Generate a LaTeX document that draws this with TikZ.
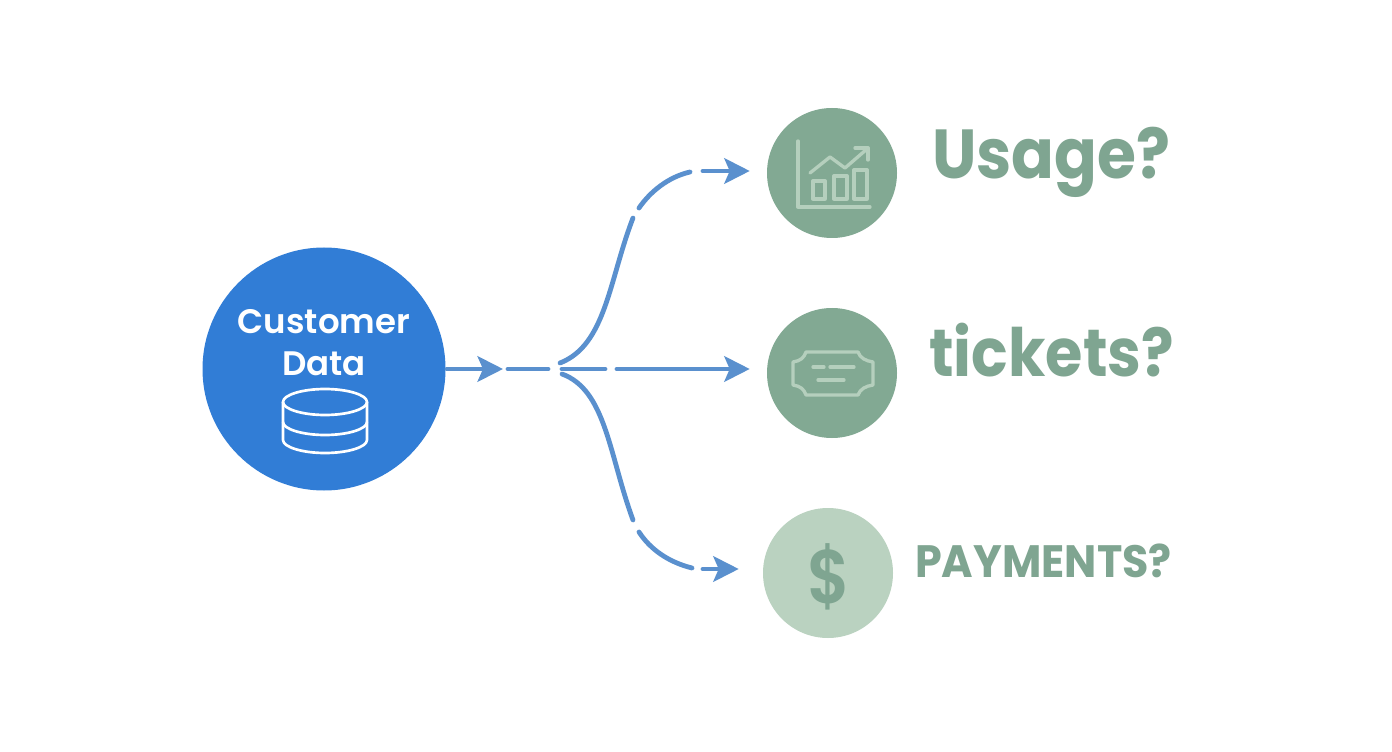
\documentclass[tikz,border=0pt]{standalone}
\usepackage{fontspec}
\setmainfont{Poppins}
\newfontfamily\semi{Poppins SemiBold}
\usetikzlibrary{arrows.meta}
\definecolor{bluefill}{HTML}{317DD6}
\definecolor{linkblue}{HTML}{5A90CE}
\definecolor{sage}{HTML}{82A993}
\definecolor{sagetext}{HTML}{7FA591}
\definecolor{paletint}{HTML}{BAD2C0}
\definecolor{icontint}{HTML}{B5CFBD}
\tikzset{
  roundnode/.style={circle,inner sep=0pt,minimum size=#1*0.75pt},
  link/.style={draw=linkblue,line width=3.6pt,line cap=round},
  tipped/.style={link,-{Stealth[length=19pt,width=19pt,inset=4pt]}},
  lbl/.style={text=sagetext,inner sep=0pt,anchor=base west},
  ico/.style={draw=icontint,line width=2.5pt,line cap=round,line join=round},
  baseicon/.style={draw=white,line width=2pt,line join=round}
}
\begin{document}
\begin{tikzpicture}[x=0.75pt,y=-0.75pt]
\useasboundingbox (0,0) rectangle (1392,752);
\fill[white] (0,0) rectangle (1392,752);
% nodes
\node[roundnode=243,fill=bluefill] (cust) at (324,369) {};
\node[roundnode=130,fill=sage] (usage) at (832,173) {};
\node[roundnode=130,fill=sage] (tickets) at (832,373) {};
\node[roundnode=130,fill=paletint] (pay) at (828,573) {};
\node[text=white,font=\semi\fontsize{25.5pt}{28pt}\selectfont,inner sep=0pt] (t1) at (324,322) {Customer};
\node[text=white,font=\semi\fontsize{25.5pt}{28pt}\selectfont,inner sep=0pt] (t2) at (324,364) {Data};
\node[lbl,xscale=0.91,font=\bfseries\fontsize{52pt}{56pt}\selectfont] (lu) at (932,179) {Usage?};
\node[lbl,xscale=0.908,font=\bfseries\fontsize{50pt}{56pt}\selectfont] (lt) at (929,376) {tickets?};
\node[lbl,xscale=0.945,font=\bfseries\fontsize{34pt}{38pt}\selectfont] (lp) at (915,577) {PAYMENTS?};
\node[text=sagetext,xscale=0.87,font=\semi\fontsize{57pt}{60pt}\selectfont,inner sep=0pt] (dollar) at (829,577) {\$};
% connector anchors
\coordinate (a0) at (447,369);
\coordinate (a1) at (503,369);
\coordinate (d1) at (508,369);
\coordinate (d2) at (548,369);
\coordinate (h) at (562,369);
\coordinate (m1) at (605,369);
\coordinate (m2) at (617,369);
\coordinate (u0) at (560,363);
\coordinate (u1) at (633,218);
\coordinate (u2) at (639,208);
\coordinate (u3) at (690,172);
\coordinate (u4) at (703,171);
\coordinate (l0) at (562,374);
\coordinate (l1) at (633,520);
\coordinate (l2) at (639,532);
\coordinate (l3) at (692,568);
\coordinate (l4) at (703,569);
% connectors
\draw[tipped] (a0) -- (a1);
\draw[link] (d1) -- (d2);
\draw[link] (h) -- (m1);
\draw[tipped] (m2) -- ([xshift=-12.75pt]tickets.west |- m2);
\draw[link] (u0) .. controls (606,345) and (609,280) .. (u1);
\draw[link] (u2) .. controls (650,192) and (668,177) .. (u3);
\draw[tipped] (u4) -- ([xshift=-12.75pt]usage.west |- u4);
\draw[link] (l0) .. controls (606,390) and (609,455) .. (l1);
\draw[link] (l2) .. controls (650,549) and (668,562) .. (l3);
\draw[tipped] (l4) -- ([xshift=-18pt]pay.west |- l4);
% database icon
\draw[baseicon] (283,402) .. controls (283,395) and (302,389) .. (325,389) .. controls (348,389) and (367,395) .. (367,402) .. controls (367,409) and (348,415) .. (325,415) .. controls (302,415) and (283,409) .. (283,402) -- cycle;
\draw[baseicon] (283,402) -- (283,440) .. controls (283,447) and (302,453) .. (325,453) .. controls (348,453) and (367,447) .. (367,440) -- (367,402);
\draw[baseicon] (283,422) .. controls (283,429) and (302,435) .. (325,435) .. controls (348,435) and (367,429) .. (367,422);
% chart icon
\draw[ico] (798,141) -- (798,207) -- (870,207);
\draw[ico] (813,181) rectangle (825,199);
\draw[ico] (834,176) rectangle (847,199);
\draw[ico] (854,170) rectangle (867,199);
\draw[ico] (810,173) -- (830,157) -- (845,168) -- (867,149);
\draw[ico] (855,148) -- (868,148) -- (868,160);
% ticket icon
\draw[ico] (806,352) -- (858,352) .. controls (860,358) and (866,361) .. (873,362) -- (873,385) .. controls (866,386) and (860,389) .. (858,395) -- (806,395) .. controls (804,389) and (800,386) .. (793,385) -- (793,362) .. controls (800,361) and (804,358) .. (806,352) -- cycle;
\draw[ico] (813,367) -- (824,367);
\draw[ico] (830,367) -- (854,367);
\draw[ico] (818,380) -- (844,380);
\end{tikzpicture}
\end{document}
